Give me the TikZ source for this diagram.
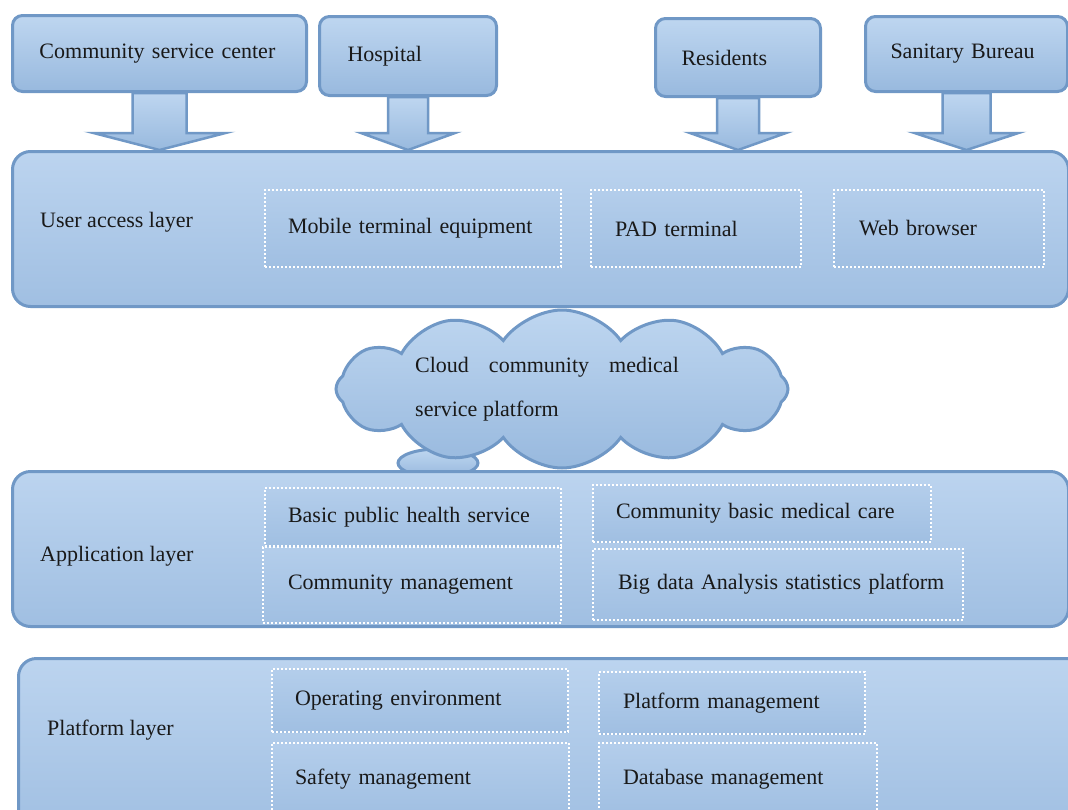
\documentclass[tikz,border=0pt]{standalone}
\usepackage{fontspec}
\setmainfont{Liberation Serif}
\usetikzlibrary{shapes.symbols,shapes.geometric,calc}
\definecolor{bord}{RGB}{112,152,198}
\definecolor{ftop}{RGB}{190,214,240}
\definecolor{fbot}{RGB}{152,185,222}
\definecolor{ltop}{RGB}{188,212,239}
\definecolor{lbot}{RGB}{160,191,226}
\definecolor{txt}{RGB}{25,25,25}
\tikzset{
  lbl/.style={font=\fontsize{22}{26}\selectfont, text=txt},
  srcbox/.style={lbl, draw=bord, line width=3pt, rounded corners=10pt,
    top color=ftop, bottom color=fbot, anchor=north west, align=left,
    inner xsep=0pt, inner ysep=0pt},
  layerbox/.style={draw=bord, line width=3pt, rounded corners=18pt,
    top color=ltop, bottom color=lbot, anchor=north west, inner sep=0pt},
  itembox/.style={lbl, draw=white, dotted, line width=2pt,
    top color=ltop!70!lbot, bottom color=lbot, anchor=north west, align=left,
    inner xsep=0pt, inner ysep=0pt},
  arrowfill/.style={draw=bord, line width=2.5pt, line join=miter,
    top color=ftop, bottom color=fbot},
  cloudshape/.style={cloud, cloud puffs=12, cloud puff arc=110, aspect=2.9,
    draw=bord, line width=3pt, top color=ftop, bottom color=fbot,
    minimum width=452pt, minimum height=158pt, inner sep=0pt},
}
\newcommand\blockarr[5]{%
  \path[arrowfill] let \p1=(#1.south), \p2=(#2.north) in
    (\x1-#3pt,\y1) -- (\x1+#3pt,\y1) -- (\x1+#3pt,\y2+#5pt) -- (\x1+#4pt,\y2+#5pt)
    -- (\x1,\y2) -- (\x1-#4pt,\y2+#5pt) -- (\x1-#3pt,\y2+#5pt) -- cycle;}
\begin{document}
\begin{tikzpicture}[x=1pt,y=-1pt]
\useasboundingbox (0,0) rectangle (1068,809);
\fill[white] (0,0) rectangle (1068,809);

% user access layer
\node[layerbox, minimum width=1056pt, minimum height=155pt] (ual) at (11,150) {};

% source boxes
\node[srcbox, text width=294pt, minimum height=76pt] (csc) at (11,14) {\hspace*{27pt}Community service center};
\node[srcbox, text width=177pt, minimum height=79pt] (hosp) at (318,15) {\hspace*{28pt}Hospital};
\node[srcbox, text width=165pt, minimum height=78pt] (res) at (654,17) {\hspace*{26pt}Residents};
\node[srcbox, text width=202pt, minimum height=75pt] (san) at (864,15) {\hspace*{25pt}Sanitary Bureau};

% block arrows
\blockarr{csc}{ual}{27}{66}{17}
\blockarr{hosp}{ual}{20}{47}{17}
\blockarr{res}{ual}{21}{48}{17}
\blockarr{san}{ual}{24}{52}{17}

% user access layer content
\node[lbl, anchor=west, inner sep=0pt] (ualtxt) at (40,222) {User access layer};
\node[itembox, text width=296pt, minimum height=77pt] (mob) at (264,189) {\hspace*{23pt}Mobile terminal equipment};
\node[itembox, text width=210pt, minimum height=77pt] (padt) at (590,189) {\hspace*{24pt}PAD terminal};
\node[itembox, text width=210pt, minimum height=77pt] (web) at (833,189) {\hspace*{25pt}Web browser};

% cloud
\node[ellipse, draw=bord, line width=3pt, top color=ftop, bottom color=fbot,
  minimum width=80pt, minimum height=28pt] (bubble) at (438,463) {};
\node[cloudshape] (cloud) at (562,389) {};
\node[lbl, font=\fontsize{22}{44}\selectfont, anchor=west, align=left, inner sep=0pt] (cloudtxt) at (415,389)
  {Cloud\hspace*{20pt}community\hspace*{20pt}medical\\service platform};

% application layer
\node[layerbox, minimum width=1056pt, minimum height=155pt] (app) at (11,470) {};
\node[lbl, anchor=west, inner sep=0pt] (apptxt) at (40,556) {Application layer};
\node[itembox, text width=296pt, minimum height=58pt] (bph) at (264,487) {\hspace*{23pt}Basic public health service};
\node[itembox, text width=338pt, minimum height=57pt] (cbm) at (592,484) {\hspace*{23pt}Community basic medical care};
\node[itembox, text width=298pt, minimum height=76pt] (cm) at (262,546) {\hspace*{25pt}Community management};
\node[itembox, text width=370pt, minimum height=71pt] (bd) at (592,548) {\hspace*{25pt}Big data Analysis statistics platform};

% platform layer
\node[layerbox, minimum width=1070pt, minimum height=175pt] (plat) at (17,657) {};
\node[lbl, anchor=west, inner sep=0pt] (plattxt) at (47,730) {Platform layer};
\node[itembox, text width=296pt, minimum height=63pt] (oe) at (271,668) {\hspace*{23pt}Operating environment};
\node[itembox, text width=266pt, minimum height=62pt] (pm) at (598,671) {\hspace*{24pt}Platform management};
\node[itembox, text width=297pt, minimum height=73pt] (sm) at (271,742) {\hspace*{23pt}Safety management};
\node[itembox, text width=278pt, minimum height=73pt] (dm) at (598,742) {\hspace*{24pt}Database management};
\end{tikzpicture}
\end{document}
